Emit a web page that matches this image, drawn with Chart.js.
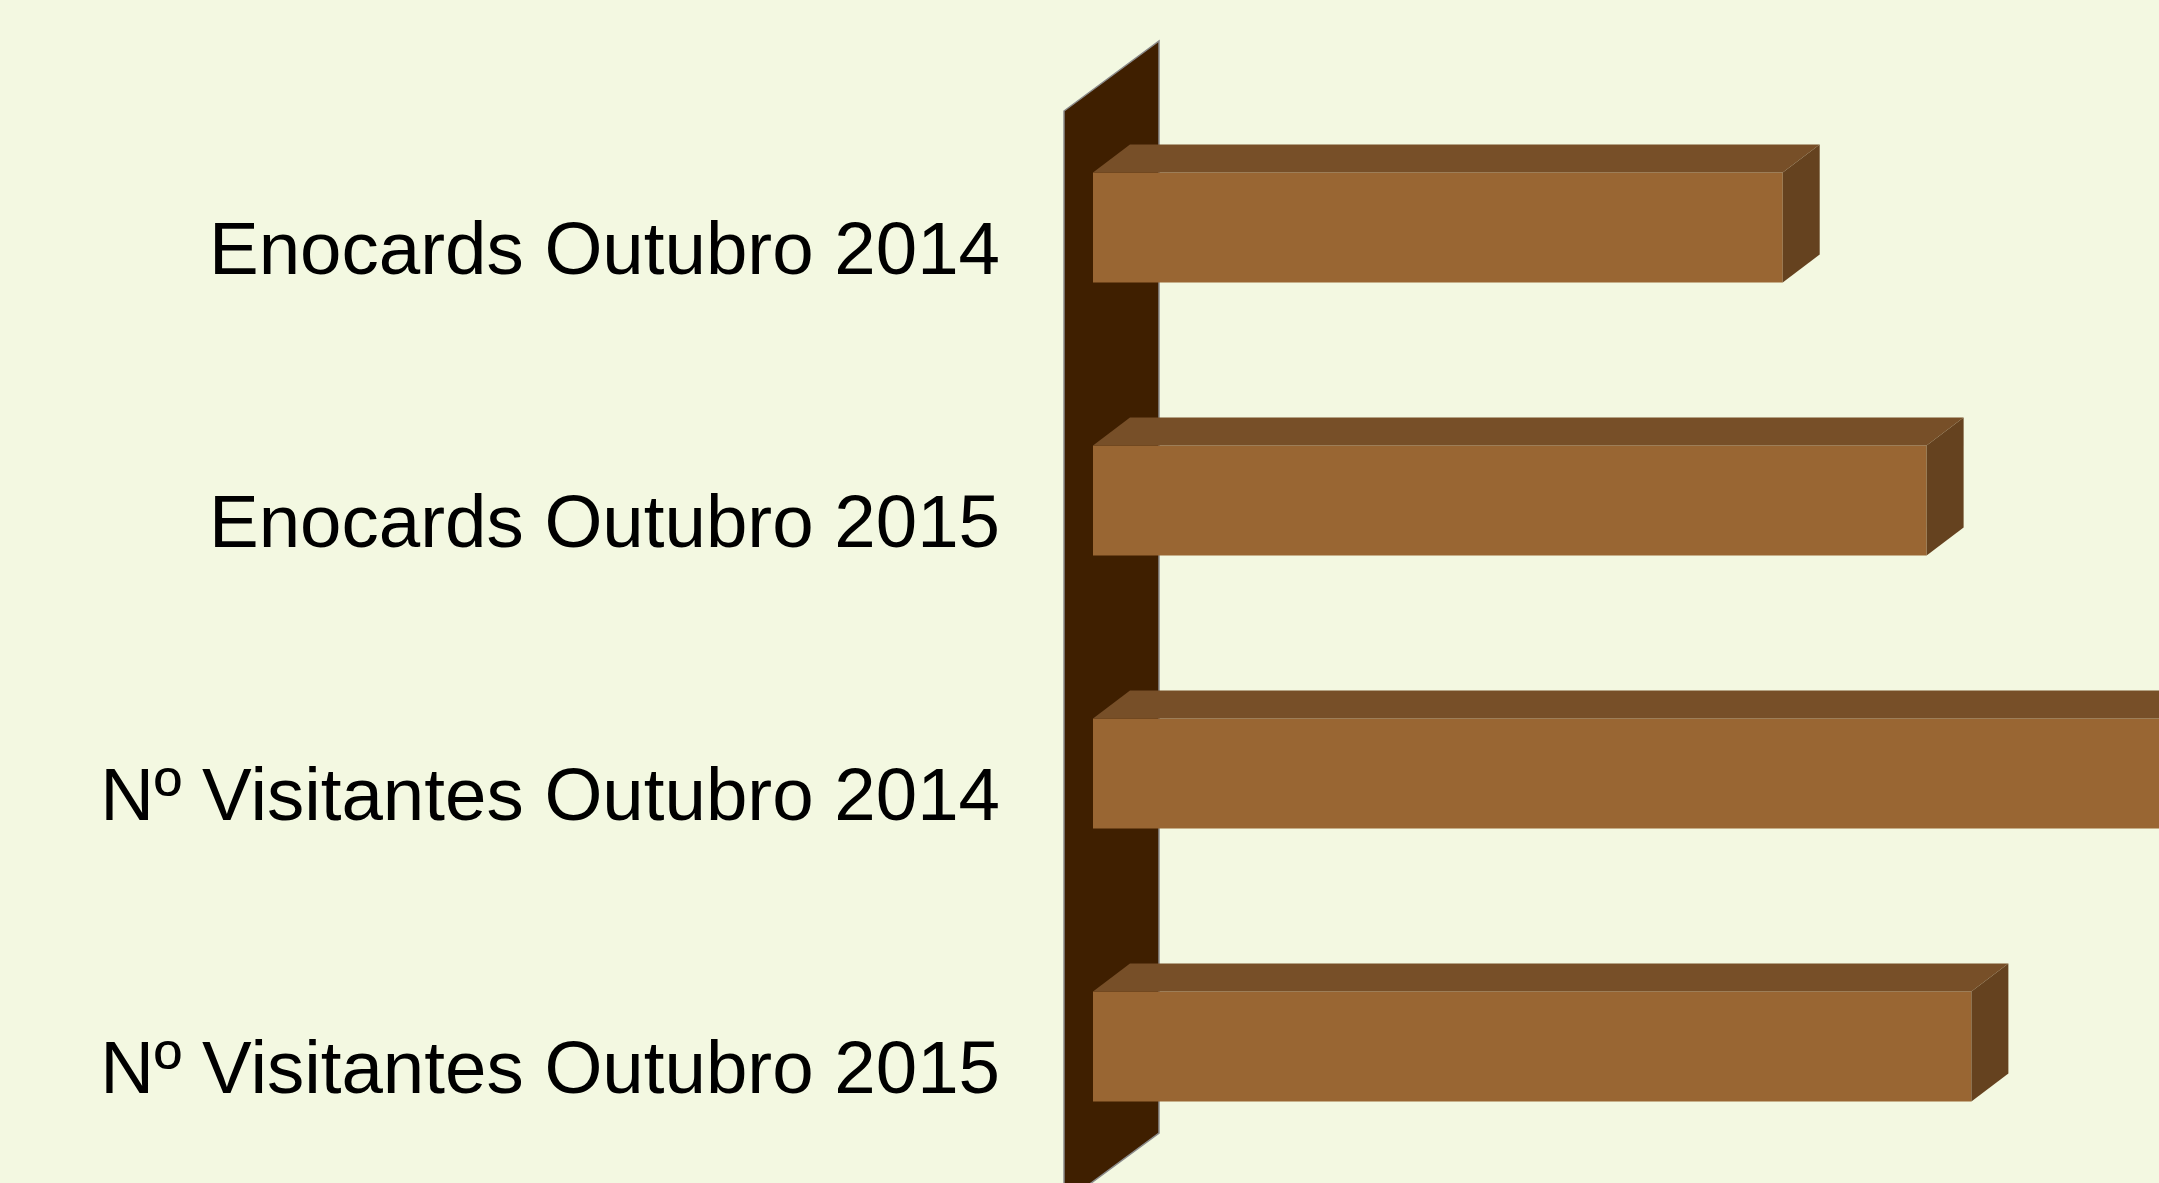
<!DOCTYPE html>
<html lang="pt">
<head>
  <meta charset="UTF-8" />
  <title>Enocards e Visitantes - Outubro</title>
  <script src="https://cdn.jsdelivr.net/npm/chart.js"></script>
  <style>
    html, body { margin: 0; padding: 0; background: #f3f8e1; overflow: hidden; }
    #wrap { width: 2159px; height: 1183px; position: relative; }
  </style>
</head>
<body>
  <div id="wrap"><canvas id="grafico"></canvas></div>

  <script>
    // dados (eixo de valores escondido, escala estimada)
    const categorias = ["Enocards Outubro 2014", "Enocards Outubro 2015", "Nº Visitantes Outubro 2014", "Nº Visitantes Outubro 2015"];
    const valores = [647, 782, 1150, 824];
    const eixoMax = 1000;

    const corFrente = "#996633";
    const corTopo = "#774f28";
    const corLado = "#65421f";
    const corParede = "#3f1f00";

    // faces de cima e do lado das barras + parede do eixo
    const efeito3d = {
      id: "efeito3d",
      beforeDatasetsDraw(chart) {
        const ctx = chart.ctx;
        const area = chart.chartArea;
        const x0 = chart.scales.x.getPixelForValue(0);
        const fx = x0 - 29, dx = 95, dy = -70;
        const topo = area.top + 20, fundo = area.bottom + 20;
        ctx.save();
        ctx.beginPath();
        ctx.moveTo(fx, topo);
        ctx.lineTo(fx + dx, topo + dy);
        ctx.lineTo(fx + dx, fundo + dy);
        ctx.lineTo(fx, fundo);
        ctx.closePath();
        ctx.fillStyle = corParede;
        ctx.fill();
        ctx.lineWidth = 1.5;
        ctx.strokeStyle = "#8a8a8a";
        ctx.stroke();
        ctx.restore();
      },
      afterDatasetsDraw(chart) {
        const ctx = chart.ctx;
        const dx = 37, dy = -28;
        ctx.save();
        chart.getDatasetMeta(0).data.forEach(b => {
          const t = b.y - b.height / 2, bt = b.y + b.height / 2;
          const l = b.base, r = b.x;
          ctx.beginPath();
          ctx.moveTo(l, t);
          ctx.lineTo(l + dx, t + dy);
          ctx.lineTo(r + dx, t + dy);
          ctx.lineTo(r, t);
          ctx.closePath();
          ctx.fillStyle = corTopo;
          ctx.fill();
          ctx.beginPath();
          ctx.moveTo(r, t);
          ctx.lineTo(r + dx, t + dy);
          ctx.lineTo(r + dx, bt + dy);
          ctx.lineTo(r, bt);
          ctx.closePath();
          ctx.fillStyle = corLado;
          ctx.fill();
        });
        ctx.restore();
      }
    };

    new Chart(document.getElementById("grafico"), {
      type: "bar",
      data: {
        labels: categorias,
        datasets: [{
          data: valores,
          backgroundColor: corFrente,
          borderWidth: 0,
          categoryPercentage: 1,
          barPercentage: 0.403
        }]
      },
      options: {
        indexAxis: "y",
        responsive: true,
        maintainAspectRatio: false,
        animation: false,
        layout: { padding: { top: 91, bottom: 0, left: 0, right: 0 } },
        plugins: { legend: { display: false }, tooltip: { enabled: false } },
        scales: {
          x: { display: false, min: 0, max: eixoMax },
          y: {
            grid: { display: false, drawTicks: false },
            border: { display: false },
            afterFit(scale) {
              scale.width = 1093;
              scale.paddingTop = 0;
              scale.paddingBottom = 0;
            },
            ticks: {
              padding: 93,
              labelOffset: 26,
              color: "#000",
              font: { family: "'Liberation Sans', Arial, sans-serif", size: 74.5 }
            }
          }
        }
      },
      plugins: [efeito3d]
    });
  </script>
</body>
</html>
